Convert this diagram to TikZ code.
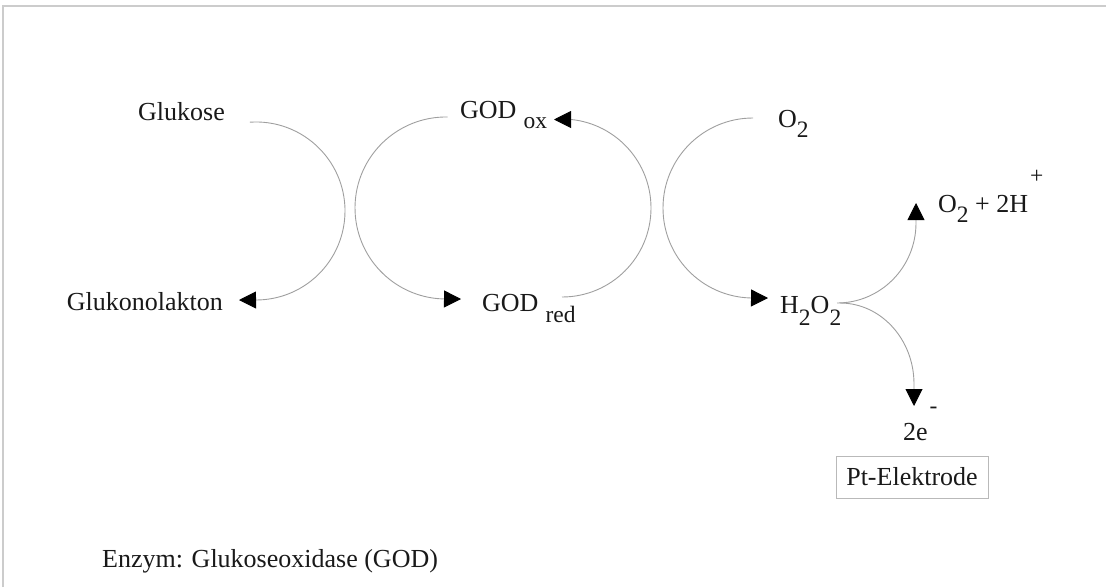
\documentclass[tikz,border=0pt]{standalone}
\usepackage{fontspec}
\setmainfont{Liberation Serif}
\usetikzlibrary{arrows.meta}
\newcommand{\mydn}[2]{\raisebox{-#1pt}{\fontsize{23.5}{26}\selectfont #2}}
\newcommand{\myup}[2]{\raisebox{#1pt}{\fontsize{23.5}{26}\selectfont #2}}
\begin{document}
\begin{tikzpicture}[x=1pt,y=-1pt,
  lbl/.style={inner sep=0pt, text=black!90, font=\fontsize{26}{30}\selectfont},
  ptbox/.style={draw=gray!55, line width=1pt, minimum width=152pt, minimum height=42pt, inner sep=0pt, text=black!90, font=\fontsize{26}{30}\selectfont},
  conn/.style={draw=gray!75, line width=0.9pt, -{Triangle[length=17pt,width=17pt,fill=black,color=black]}},
  frame/.style={draw=gray!40, line width=1.5pt}
]
\useasboundingbox (0,0) rectangle (1106,587);
\draw[frame] (3,587) -- (3,6) -- (1106,6);

% labels
\node[lbl, anchor=base west] (glu) at (138,120) {Glukose};
\node[lbl, anchor=base east] (glk) at (223,310) {Glukonolakton};
\node[lbl, anchor=base west] (godox) at (460,118) {GOD\hspace{7pt}\mydn{10}{ox}};
\node[lbl, anchor=base west] (godred) at (482,311) {GOD\hspace{7pt}\mydn{11}{red}};
\node[lbl, anchor=base west] (otwo) at (778,127) {O\mydn{10}{2}};
\node[lbl, anchor=base west] (hoo) at (780,313) {H\mydn{12}{2}O\mydn{12}{2}};
\node[lbl, anchor=base west] (oh) at (938,212) {O\mydn{10}{2} + 2H\hspace{2pt}\myup{29}{+}};
\node[lbl, anchor=base west] (el) at (903,440) {2e\hspace{2pt}\myup{27}{-}};
\node[ptbox] (pt) at (912,477) {Pt-Elektrode};
\node[lbl, anchor=base west] (enz) at (102,567) {Enzym: Glukoseoxidase (GOD)};

% connector ends
\coordinate (c1s) at (249.8,122.2);
\coordinate (c1e) at (239,300);
\coordinate (c2s) at (447.6,117);
\coordinate (c2e) at (461,299);
\coordinate (c3s) at (562,297);
\coordinate (c3e) at (554,119.5);
\coordinate (c4s) at (753,118);
\coordinate (c4e) at (768,298);
\coordinate (c5s) at (837,303);
\coordinate (c5e) at (916,203);
\coordinate (c6s) at (840,303);
\coordinate (c6e) at (914,406);

% connectors
\draw[conn] (c1s) arc[start angle=-94, end angle=90, radius=89] -- (c1e);
\draw[conn] (c2s) arc[start angle=271, end angle=92, radius=91] -- (c2e);
\draw[conn] (c3s) arc[start angle=90, end angle=-84, radius=89] -- (c3e);
\draw[conn] (c4s) arc[start angle=270, end angle=92, radius=90] -- (c4e);
\draw[conn] (c5s) arc[start angle=90, end angle=0, x radius=79, y radius=80] -- (c5e);
\draw[conn] (c6s) arc[start angle=-90, end angle=0, x radius=74, y radius=81] -- (c6e);
\end{tikzpicture}
\end{document}
